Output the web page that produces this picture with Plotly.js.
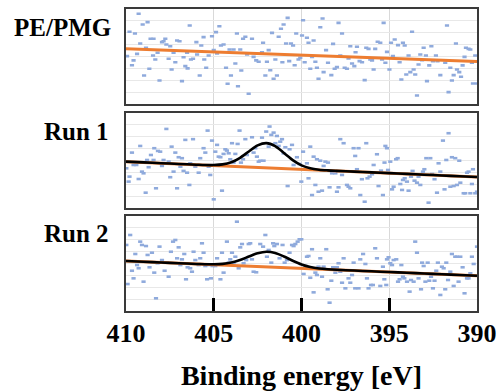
<!DOCTYPE html>
<html>
<head>
<meta charset="utf-8">
<script src="https://cdn.plot.ly/plotly-3.0.1.min.js"></script>
<style>html,body{margin:0;padding:0;background:#fff;}#chart{width:502px;height:392px;}</style>
</head>
<body>
<div id="chart"></div>
<script>
// ---------- data ----------
const panelLabels = ["PE/PMG", "Run 1", "Run 2"];
const tickValues = [410, 405, 400, 395, 390];
const tickLabels = ["410", "405", "400", "395", "390"];
const xTitle = "Binding energy [eV]";

// Panel 1 (PE/PMG) scatter
const p1x = [
409.94,409.8,409.66,409.57,409.49,409.37,409.28,409.19,409.05,408.97,
408.86,408.77,408.67,408.6,408.46,408.43,408.33,408.2,408.09,407.95,
407.86,407.76,407.7,407.57,407.48,407.4,407.29,407.19,407.09,406.95,
406.81,406.72,406.62,406.52,406.49,406.37,406.3,406.18,405.99,405.95,
405.8,405.71,405.58,405.54,405.43,405.29,405.1,405.0,404.87,404.81,
404.68,404.59,404.44,404.3,404.21,404.1,404.02,403.87,403.77,403.68,
403.62,403.49,403.43,403.33,403.2,403.1,403.01,
402.82,402.73,402.58,402.44,402.25,402.19,402.06,401.97,401.87,401.78,
401.68,401.59,401.49,401.4,401.3,401.17,401.09,401.02,400.88,400.79,
400.7,400.6,400.48,400.39,400.3,400.17,400.07,399.97,399.91,399.82,
399.69,399.6,399.5,399.4,399.31,399.21,399.12,399.03,398.93,398.8,
398.74,398.6,398.49,398.3,398.2,398.11,397.98,397.89,397.79,397.69,
397.54,397.41,397.32,397.22,397.12,396.99,396.92,396.84,396.69,396.55,
396.4,396.31,396.18,396.08,395.98,395.89,395.8,395.66,395.51,395.41,
395.32,395.22,395.13,394.99,394.9,394.79,394.69,394.5,394.41,394.31,
394.22,394.12,394.03,393.9,393.8,393.7,393.61,393.52,393.42,393.33,
393.23,393.13,393.04,392.91,392.85,392.72,392.6,392.51,392.34,392.25,
392.09,391.81,391.71,391.62,391.52,391.43,391.33,391.2,391.14,391.01,
390.91,390.82,390.71,390.63,390.48,390.38,390.29,390.23,390.1,390.0];
const p1y = [
4.05,6.09,3.29,3.69,5.95,4.24,7.6,5.11,6.7,2.43,
4.75,6.9,2.99,5.5,4.1,5.5,3.77,4.33,2.01,5.22,
5.3,5.5,5.03,3.83,4.88,2.93,4.33,3.54,5.36,5.3,
1.95,3.96,3.21,4.33,3.02,6.62,3.77,3.83,5.22,4.19,
2.43,4.94,5.64,3.77,3.07,4.1,5.72,4.55,6.06,4.27,
6.56,4.94,5.03,3.07,1.73,4.61,2.43,4.61,3.43,5.95,
1.53,4.61,2.85,5.5,5.67,4.19,0.9,
5.5,3.99,3.69,3.58,4.38,5.17,2.43,3.58,4.55,2.87,
6.0,2.15,3.77,2.43,5.67,6.34,3.54,6.7,5.11,7.26,
3.63,5.11,4.94,3.29,5.95,3.77,3.91,5.78,7.06,3.54,
5.59,5.17,2.99,3.99,5.36,3.58,3.07,2.15,6.47,7.2,
2.71,4.55,3.49,2.46,5.08,2.99,3.13,6.84,4.1,5.95,
3.07,2.99,3.85,4.88,3.43,3.21,4.38,4.83,3.63,3.54,
2.04,4.75,4.66,3.77,3.69,2.93,4.66,5.25,5.17,3.77,
6.84,3.49,4.41,2.93,5.17,4.05,5.44,4.97,3.54,2.09,
5.17,4.94,2.51,4.1,2.71,6.09,2.93,2.51,0.75,3.35,
4.19,3.71,4.75,4.1,1.95,3.27,4.88,3.63,4.1,3.63,
2.46,3.49,6.62,1.03,3.07,2.01,2.46,5.11,2.93,2.71,
2.32,3.27,3.99,4.75,4.66,4.61,3.49,1.76,4.1,1.76];

// Panel 2 (Run 1) scatter
const p2x = [
409.98,409.85,409.8,409.66,409.57,409.41,409.28,409.19,409.09,409.0,
408.88,408.8,408.71,408.58,408.43,408.39,408.29,408.18,408.05,407.95,
407.86,407.7,407.57,407.48,407.4,407.29,407.19,407.09,407.0,406.9,
406.81,406.72,406.62,406.52,406.39,406.34,406.18,406.05,405.86,405.77,
405.58,405.48,405.35,405.29,405.2,405.1,405.0,404.91,404.81,404.72,
404.62,404.53,404.44,404.34,404.25,404.15,404.06,403.96,403.87,403.77,
403.64,403.53,403.45,403.33,403.2,403.11,
402.82,402.73,402.63,402.54,402.44,402.35,402.25,402.16,402.01,401.87,
401.82,401.72,401.59,401.49,401.4,401.3,401.21,401.11,401.02,400.92,
400.79,400.68,400.54,400.45,400.26,400.11,400.01,399.91,399.69,399.6,
399.5,399.4,399.31,399.21,399.12,399.03,398.93,398.83,398.74,398.64,
398.49,398.4,398.26,398.07,397.98,397.89,397.79,397.69,397.6,397.41,
397.32,397.22,397.03,396.94,396.84,396.75,396.65,396.56,396.4,396.31,
396.24,396.12,395.98,395.89,395.7,395.61,395.47,395.36,395.27,395.22,
395.13,395.07,394.94,394.84,394.75,394.61,394.52,394.37,394.27,394.22,
394.12,393.99,393.9,393.76,393.67,393.56,393.42,393.33,393.23,393.08,
393.0,392.89,392.76,392.66,392.56,392.42,392.28,392.19,392.09,391.94,
391.85,391.75,391.62,391.52,391.43,391.33,391.24,391.14,391.01,390.95,
390.76,390.67,390.57,390.48,390.38,390.29,390.23,390.1,390.0];
const p2y = [
3.34,2.22,2.64,4.66,3.62,3.62,2.44,5.22,3.06,2.92,
1.29,4.04,3.43,4.46,4.04,5.03,1.66,4.8,4.74,3.54,
4.04,6.65,3.9,2.59,5.16,3.06,4.66,1.66,4.27,3.48,
4.19,3.12,5.73,2.97,1.94,3.76,5.79,3.48,2.97,4.19,
5.03,4.66,6.51,3.48,2.78,5.67,0.73,4.74,5.31,4.32,
4.27,1.46,4.55,4.94,4.83,4.6,4.1,5.45,3.82,4.55,
5.39,6.51,3.82,4.1,5.79,4.46,
5.95,4.66,5.03,4.32,3.9,3.98,5.92,3.98,6.43,5.16,
6.85,6.15,6.34,5.45,6.06,5.22,5.58,5.79,4.6,5.11,
1.85,4.94,5.31,3.62,4.27,3.7,2.22,4.74,3.76,2.5,
5.16,1.09,4.32,1.94,4.1,1.37,3.98,1.46,3.54,3.9,
3.82,1.74,2.92,2.92,1.37,1.74,5.79,2.78,5.45,1.94,
1.79,1.66,5.03,4.38,3.26,5.03,1.09,2.42,0.53,5.45,
2.5,2.64,2.84,3.62,4.52,1.85,3.14,1.09,3.82,5.22,
5.03,3.2,3.9,1.57,1.79,4.1,4.19,2.02,1.52,2.36,
2.5,2.22,1.46,2.64,3.12,2.3,2.13,2.64,1.94,3.06,
3.26,4.19,0.45,4.19,2.86,2.42,1.29,3.76,3.06,5.67,
1.57,4.04,6.29,1.79,4.27,1.85,4.19,1.94,3.98,2.13,
1.24,1.24,2.97,3.06,1.24,2.02,3.26,1.24,1.37];

// Panel 3 (Run 2) scatter
const p3x = [
409.98,409.91,409.76,409.66,409.57,409.47,409.37,409.28,409.19,409.09,
409.0,408.86,408.77,408.66,408.52,408.39,408.29,408.2,408.09,407.95,
407.8,407.66,407.57,407.44,407.32,407.19,407.09,407.0,406.9,406.81,
406.68,406.58,406.49,406.34,406.24,406.15,406.05,405.86,405.77,405.67,
405.58,405.48,405.38,405.29,405.16,405.07,404.91,404.81,404.62,404.53,
404.44,404.25,404.15,404.06,403.96,403.87,403.77,403.68,403.58,403.49,
403.39,403.3,403.15,403.01,
402.92,402.82,402.73,402.58,402.35,402.19,402.06,401.97,401.87,401.72,
401.62,401.55,401.4,401.25,401.08,400.96,400.83,400.68,400.54,400.45,
400.35,400.22,400.11,400.01,399.88,399.78,399.69,399.6,399.5,399.4,
399.31,399.21,399.12,399.03,398.93,398.83,398.74,398.59,398.51,398.4,
398.3,398.2,398.07,397.98,397.89,397.79,397.69,397.6,397.5,397.32,
397.22,397.12,397.03,396.94,396.75,396.65,396.49,396.36,396.27,396.18,
396.04,395.93,395.8,395.7,395.61,395.51,395.36,395.28,395.17,395.13,
395.04,394.94,394.84,394.75,394.6,394.5,394.41,394.31,394.22,394.14,
393.99,393.84,393.76,393.61,393.52,393.42,393.33,393.19,393.13,393.04,
392.94,392.81,392.72,392.62,392.51,392.42,392.32,392.23,392.09,392.0,
391.9,391.81,391.75,391.65,391.52,391.43,391.33,391.24,391.14,391.05,
390.95,390.82,390.71,390.57,390.48,390.38,390.29,390.19,390.0];
const p3y = [
5.56,2.27,6.4,3.39,2.75,4.8,3.87,3.6,5.84,5.56,
2.47,5.47,4.72,3.68,4.91,3.23,1.07,4.02,5.42,4.29,
3.39,4.07,2.89,4.99,5.84,5.98,4.44,5.36,3.87,4.35,
4.8,2.67,3.68,3.6,3.31,4.99,4.29,3.87,4.44,5.7,
4.91,3.79,2.67,3.87,2.75,3.79,3.79,4.44,2.67,4.91,
3.23,5.84,4.07,4.35,4.91,4.07,4.57,7.52,3.6,5.36,
5.64,4.02,4.29,5.64,
5.7,4.35,3.31,3.26,5.64,5.42,6.4,4.57,5.14,4.07,
5.7,5.47,5.64,4.44,5.56,4.07,4.29,4.91,5.56,5.47,
5.64,5.84,6.04,6.04,3.12,3.79,4.57,4.63,2.8,5.2,
1.57,3.23,3.03,3.73,4.44,2.89,3.73,5.2,1.83,0.7,
2.55,3.68,3.23,3.68,4.02,3.31,2.38,4.44,1.91,2.75,
2.38,3.03,4.07,1.91,1.91,4.35,4.8,3.96,2.75,1.91,
2.19,2.19,5.28,4.44,3.31,2.11,3.73,2.67,2.19,4.35,
4.52,4.02,3.87,4.29,4.35,2.47,2.67,3.87,2.89,2.75,
2.47,1.63,2.61,2.47,5.84,4.91,2.75,1.83,4.07,3.79,
2.47,4.07,2.55,2.89,1.91,2.55,3.39,4.07,1.35,3.73,
3.6,1.83,4.07,2.61,3.31,4.8,2.11,4.57,4.57,2.47,
4.57,3.68,1.49,2.75,2.75,3.17,4.57,3.96,5.42];

// Baselines (orange), end points
const baseX = [410, 390];
const base1 = [4.66, 3.60];
const base2 = [3.90, 2.61];
const base3 = [4.21, 2.97];

// Fit envelopes (black)
const fitX = [410,409,408,407,406,405.5,405,404.5,404,403.5,403,402.5,402,401.5,401,400.5,400,399.5,399,398.5,398,397,396,395,394,393,392,391,390];
const fit2 = [3.90,3.835,3.771,3.706,3.642,3.614,3.612,3.667,3.85,4.226,4.758,5.266,5.454,5.202,4.629,4.032,3.592,3.345,3.225,3.166,3.126,3.061,2.997,2.932,2.868,2.803,2.739,2.674,2.61];
const fit3 = [4.21,4.148,4.086,4.024,3.963,3.94,3.934,3.968,4.08,4.293,4.586,4.862,4.989,4.888,4.594,4.231,3.917,3.704,3.581,3.513,3.469,3.404,3.342,3.28,3.218,3.156,3.094,3.032,2.97];

// ---------- styling ----------
const dotColor = "#8FAADC";
const orange = "#ED7D31";
const serif = "Liberation Serif, Times New Roman, serif";

function dots(x, y, ax) {
  return {x: x, y: y, xaxis: "x" + ax, yaxis: "y" + ax, type: "scatter", mode: "markers",
    marker: {symbol: "line-ew", size: 3, color: dotColor, line: {color: dotColor, width: 2.6}},
    hoverinfo: "skip"};
}
function line(x, y, ax, color, w, spline) {
  return {x: x, y: y, xaxis: "x" + ax, yaxis: "y" + ax, type: "scatter", mode: "lines",
    line: {color: color, width: w, shape: spline ? "spline" : "linear", smoothing: 0.8}, hoverinfo: "skip"};
}

const data = [
  dots(p1x, p1y, ""), line(baseX, base1, "", orange, 3, false),
  dots(p2x, p2y, "2"), line(baseX, base2, "2", orange, 3, false), line(fitX, fit2, "2", "#000000", 2.6, true),
  dots(p3x, p3y, "3"), line(baseX, base3, "3", orange, 3, false), line(fitX, fit3, "3", "#000000", 2.6, true)
];

const frame = {showline: true, linecolor: "#3a3a3a", linewidth: 2, mirror: true, zeroline: false};
function xa(anchor, bottom) {
  const a = Object.assign({}, frame, {
    anchor: anchor, domain: [0, 1], range: [410, 390], tickmode: "array", tickvals: tickValues,
    showgrid: true, gridcolor: "#d9d9d9", gridwidth: 1, fixedrange: true
  });
  if (bottom) {
    Object.assign(a, {ticktext: tickLabels.map(t => "<b>" + t + "</b>"), showticklabels: true, ticks: "inside", ticklen: 13, tickwidth: 3,
      tickcolor: "#000000", ticklabelstandoff: -2,
      tickfont: {family: serif, size: 26, color: "#000000"},
      title: {text: "<b>" + xTitle + "</b>", standoff: 18, font: {family: serif, size: 28, color: "#000000"}}});
  } else {
    Object.assign(a, {showticklabels: false, ticks: ""});
  }
  return a;
}
function ya(anchor, dom) {
  return Object.assign({}, frame, {anchor: anchor, domain: dom, range: [0, 8], tick0: 0, dtick: 1,
    showgrid: true, gridcolor: "#e8e8e8", gridwidth: 1, showticklabels: false, ticks: "", fixedrange: true});
}

const labelFont = {family: serif, size: 25, color: "#000000"};
const layout = {
  font: {family: serif},
  width: 502, height: 392, margin: {l: 126, r: 25, t: 9, b: 81},
  paper_bgcolor: "#ffffff", plot_bgcolor: "#ffffff", showlegend: false,
  xaxis: xa("y", false), xaxis2: xa("y2", false), xaxis3: xa("y3", true),
  yaxis: ya("x", [0.684, 1]), yaxis2: ya("x2", [0.341, 0.656]), yaxis3: ya("x3", [0, 0.3146]),
  annotations: [
    {text: "<b>" + panelLabels[0] + "</b>", xref: "paper", yref: "paper", x: -0.038, y: 0.94, xanchor: "right", yanchor: "middle", showarrow: false, font: labelFont},
    {text: "<b>" + panelLabels[1] + "</b>", xref: "paper", yref: "paper", x: -0.043, y: 0.594, xanchor: "right", yanchor: "middle", showarrow: false, font: labelFont},
    {text: "<b>" + panelLabels[2] + "</b>", xref: "paper", yref: "paper", x: -0.043, y: 0.258, xanchor: "right", yanchor: "middle", showarrow: false, font: labelFont}
  ]
};

Plotly.newPlot("chart", data, layout, {staticPlot: true, displayModeBar: false});
</script>
</body>
</html>
